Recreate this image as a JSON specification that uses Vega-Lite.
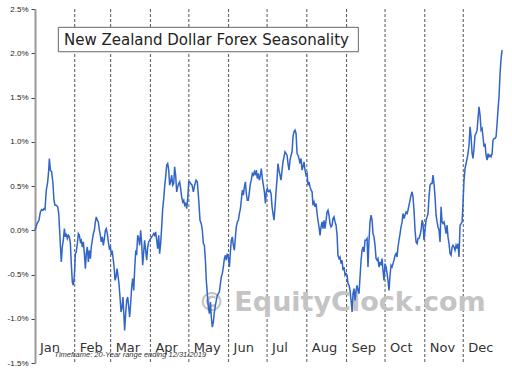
{
  "$schema": "https://vega.github.io/schema/vega-lite/v6.json",
  "width": 468,
  "height": 354,
  "autosize": {"type": "none"},
  "padding": {"left": 35, "top": 9, "right": 9, "bottom": 9},
  "background": "white",
  "config": {
    "view": {"stroke": null},
    "axisX": {"disable": true},
    "axisY": {
      "values": [-1.5, -1, -0.5, 0, 0.5, 1, 1.5, 2, 2.5],
      "labelExpr": "replace(format(datum.value, '.1f'), '\u2212', '-') + '%'",
      "labelFont": "Liberation Sans",
      "labelFontSize": 8,
      "labelColor": "#222",
      "labelPadding": 3,
      "domainColor": "#999",
      "domainWidth": 2,
      "tickColor": "#444",
      "tickSize": 4,
      "title": null,
      "gridColor": {"condition": {"test": "datum.value === 0", "value": "#000"}, "value": "#aaa"},
      "gridWidth": {"condition": {"test": "datum.value === 0", "value": 1.5}, "value": 1},
      "gridOpacity": {"condition": {"test": "datum.value <= -1.5 || datum.value >= 2.5", "value": 0}, "value": 1}
    }
  },
  "datasets": {
    "months": [
      {"month": "Jan", "start": 0}, {"month": "Feb", "start": 31}, {"month": "Mar", "start": 59},
      {"month": "Apr", "start": 90}, {"month": "May", "start": 120}, {"month": "Jun", "start": 151},
      {"month": "Jul", "start": 181}, {"month": "Aug", "start": 212}, {"month": "Sep", "start": 243},
      {"month": "Oct", "start": 273}, {"month": "Nov", "start": 304}, {"month": "Dec", "start": 334}
    ],
    "series": [
      {"d":0,"v":0},{"d":1.6,"v":0.075},{"d":3.1,"v":0.113},{"d":4.2,"v":0.207},{"d":5.2,"v":0.234},{"d":6.2,"v":0.226},{"d":7.0,"v":0.245},{"d":7.8,"v":0.234},{"d":8.8,"v":0.452},{"d":9.9,"v":0.547},{"d":10.7,"v":0.679},{"d":11.2,"v":0.811},{"d":12.0,"v":0.679},{"d":13.0,"v":0.66},{"d":14.0,"v":0.528},{"d":14.8,"v":0.339},{"d":15.6,"v":0.283},{"d":16.6,"v":0.283},{"d":17.7,"v":0.264},{"d":18.5,"v":0.189},{"d":19.2,"v":0},{"d":20.0,"v":-0.226},{"d":20.5,"v":-0.358},{"d":21.3,"v":-0.189},{"d":22.1,"v":-0.113},{"d":22.9,"v":0.019},{"d":23.7,"v":-0.075},{"d":24.4,"v":-0.038},{"d":25.2,"v":-0.094},{"d":26.0,"v":-0.057},{"d":26.8,"v":-0.075},{"d":27.6,"v":-0.151},{"d":28.3,"v":-0.377},{"d":29.1,"v":-0.585},{"d":29.9,"v":-0.622},{"d":30.7,"v":-0.509},{"d":31.5,"v":-0.264},{"d":32.2,"v":-0.245},{"d":33.0,"v":-0.151},{"d":33.8,"v":-0.038},{"d":34.6,"v":-0.057},{"d":35.4,"v":-0.132},{"d":36.1,"v":-0.113},{"d":36.9,"v":-0.189},{"d":37.7,"v":-0.132},{"d":38.5,"v":-0.264},{"d":39.3,"v":-0.434},{"d":40.0,"v":-0.264},{"d":40.8,"v":-0.189},{"d":41.6,"v":-0.358},{"d":42.4,"v":-0.226},{"d":43.2,"v":-0.321},{"d":43.9,"v":-0.189},{"d":44.7,"v":-0.113},{"d":45.5,"v":-0.038},{"d":46.3,"v":0},{"d":47.1,"v":0.094},{"d":47.8,"v":0.151},{"d":48.6,"v":0.113},{"d":49.4,"v":0.094},{"d":50.2,"v":0},{"d":51.0,"v":-0.057},{"d":51.7,"v":-0.132},{"d":52.5,"v":-0.075},{"d":53.3,"v":-0.17},{"d":54.1,"v":-0.094},{"d":54.9,"v":0},{"d":55.6,"v":0.019},{"d":56.4,"v":-0.038},{"d":57.2,"v":-0.132},{"d":58.0,"v":-0.207},{"d":58.8,"v":-0.189},{"d":59.5,"v":-0.264},{"d":60.3,"v":-0.245},{"d":61.1,"v":-0.339},{"d":61.9,"v":-0.452},
      {"d":62.4,"v":-0.566},{"d":63.2,"v":-0.528},{"d":64.0,"v":-0.434},{"d":64.7,"v":-0.509},{"d":65.5,"v":-0.603},{"d":66.3,"v":-0.754},{"d":67.1,"v":-0.924},{"d":67.9,"v":-0.867},{"d":68.6,"v":-0.754},{"d":69.4,"v":-0.98},{"d":69.9,"v":-1.131},{"d":70.7,"v":-0.943},{"d":71.5,"v":-0.792},{"d":72.3,"v":-0.754},{"d":73.1,"v":-0.867},{"d":73.8,"v":-0.98},{"d":74.6,"v":-0.83},{"d":75.4,"v":-0.641},{"d":76.2,"v":-0.547},{"d":77.0,"v":-0.679},{"d":77.7,"v":-0.452},{"d":78.5,"v":-0.245},{"d":79.3,"v":-0.264},{"d":80.1,"v":-0.057},{"d":80.9,"v":-0.094},{"d":81.6,"v":-0.17},{"d":82.4,"v":0},{"d":83.2,"v":-0.151},{"d":84.0,"v":-0.396},{"d":84.8,"v":-0.245},{"d":85.5,"v":-0.113},{"d":86.3,"v":-0.226},{"d":87.1,"v":-0.339},{"d":87.9,"v":-0.189},{"d":88.7,"v":-0.132},{"d":89.4,"v":-0.113},{"d":90.2,"v":-0.094},{"d":91.0,"v":-0.075},{"d":91.8,"v":-0.057},{"d":92.6,"v":-0.038},{"d":93.3,"v":-0.057},{"d":94.1,"v":-0.019},{"d":94.9,"v":-0.113},{"d":95.7,"v":-0.207},{"d":96.5,"v":-0.057},{"d":97.2,"v":-0.264},{"d":98.0,"v":-0.151},{"d":98.8,"v":0.038},{"d":99.6,"v":0.245},{"d":100.4,"v":0.358},{"d":101.1,"v":0.49},{"d":101.9,"v":0.603},{"d":102.7,"v":0.735},{"d":103.5,"v":0.754},{"d":104.3,"v":0.679},{"d":105.0,"v":0.509},{"d":105.8,"v":0.547},{"d":106.6,"v":0.622},{"d":107.4,"v":0.509},{"d":108.2,"v":0.528},{"d":108.9,"v":0.716},{"d":109.7,"v":0.622},{"d":110.5,"v":0.433},{"d":111.3,"v":0.49},{"d":112.1,"v":0.528},{"d":112.8,"v":0.547},{"d":113.6,"v":0.471},{"d":114.4,"v":0.377},{"d":115.2,"v":0.32},{"d":116.0,"v":0.339},{"d":116.7,"v":0.283},{"d":117.5,"v":0.302},{"d":118.3,"v":0.245},{"d":119.1,"v":0.358},{"d":119.9,"v":0.547},{"d":120.6,"v":0.547},{"d":121.4,"v":0.528},
      {"d":122.5,"v":0.509},{"d":123.5,"v":0.434},{"d":124.5,"v":0.509},{"d":125.6,"v":0.566},{"d":126.6,"v":0.547},{"d":127.7,"v":0.339},{"d":128.7,"v":0.113},{"d":129.7,"v":0.075},{"d":130.5,"v":0},{"d":131.3,"v":-0.151},{"d":132.1,"v":-0.17},{"d":132.9,"v":-0.339},{"d":133.6,"v":-0.566},{"d":134.4,"v":-0.716},{"d":135.2,"v":-0.867},{"d":136.0,"v":-0.943},{"d":136.8,"v":-0.811},{"d":137.5,"v":-0.98},{"d":138.3,"v":-1.094},{"d":139.1,"v":-1.037},{"d":139.9,"v":-0.924},{"d":140.7,"v":-0.848},{"d":141.4,"v":-0.792},{"d":142.2,"v":-0.735},{"d":143.0,"v":-0.716},{"d":143.8,"v":-0.697},{"d":144.6,"v":-0.603},{"d":145.3,"v":-0.528},{"d":146.1,"v":-0.49},{"d":146.9,"v":-0.415},{"d":147.7,"v":-0.32},{"d":148.5,"v":-0.283},{"d":149.2,"v":-0.339},{"d":150.0,"v":-0.264},{"d":150.8,"v":-0.302},{"d":151.6,"v":-0.415},{"d":152.4,"v":-0.245},{"d":153.1,"v":-0.113},{"d":153.9,"v":-0.075},{"d":154.7,"v":-0.17},{"d":155.5,"v":-0.226},{"d":156.3,"v":-0.075},{"d":157.0,"v":0.038},{"d":157.8,"v":0.094},{"d":158.6,"v":0.113},{"d":159.4,"v":0.189},{"d":160.2,"v":0.245},{"d":160.9,"v":0.339},{"d":161.7,"v":0.452},{"d":162.5,"v":0.396},{"d":163.3,"v":0.49},{"d":164.1,"v":0.547},{"d":164.8,"v":0.415},{"d":165.6,"v":0.339},{"d":166.4,"v":0.339},{"d":167.2,"v":0.434},{"d":168.0,"v":0.528},{"d":168.7,"v":0.566},{"d":169.5,"v":0.641},{"d":170.3,"v":0.622},{"d":171.1,"v":0.66},{"d":171.9,"v":0.622},{"d":172.6,"v":0.679},{"d":173.4,"v":0.585},{"d":174.2,"v":0.641},{"d":175.0,"v":0.566},{"d":175.8,"v":0.622},{"d":176.5,"v":0.698},{"d":177.3,"v":0.585},{"d":178.1,"v":0.509},{"d":178.9,"v":0.434},{"d":179.7,"v":0.302},{"d":180.4,"v":0.434},{"d":181.2,"v":0.471},{"d":182.0,"v":0.434},
      {"d":182.5,"v":0.434},{"d":183.3,"v":0.452},{"d":184.1,"v":0.415},{"d":184.9,"v":0.264},{"d":185.6,"v":0.189},{"d":186.4,"v":0.113},{"d":187.2,"v":0.264},{"d":188.0,"v":0.434},{"d":188.8,"v":0.585},{"d":189.5,"v":0.754},{"d":190.3,"v":0.679},{"d":191.1,"v":0.622},{"d":191.9,"v":0.566},{"d":192.7,"v":0.679},{"d":193.4,"v":0.773},{"d":194.2,"v":0.83},{"d":195.0,"v":0.886},{"d":195.8,"v":0.867},{"d":196.6,"v":0.848},{"d":197.3,"v":0.754},{"d":198.1,"v":0.679},{"d":198.9,"v":0.792},{"d":199.7,"v":0.848},{"d":200.5,"v":0.886},{"d":201.2,"v":1.056},{"d":202.0,"v":1.112},{"d":202.8,"v":1.131},{"d":203.6,"v":1.094},{"d":204.4,"v":0.867},{"d":205.1,"v":0.848},{"d":205.9,"v":0.811},{"d":206.7,"v":0.754},{"d":207.5,"v":0.811},{"d":208.3,"v":0.679},{"d":209.0,"v":0.716},{"d":209.8,"v":0.773},{"d":210.6,"v":0.679},{"d":211.4,"v":0.622},{"d":212.2,"v":0.641},{"d":212.9,"v":0.509},{"d":213.7,"v":0.547},{"d":214.5,"v":0.49},{"d":215.3,"v":0.452},{"d":216.1,"v":0.434},{"d":216.8,"v":0.283},{"d":217.6,"v":0.32},{"d":218.4,"v":0.264},{"d":219.2,"v":0.302},{"d":220.0,"v":0.189},{"d":220.7,"v":0.113},{"d":221.5,"v":0.038},{"d":222.3,"v":-0.057},{"d":223.1,"v":0.038},{"d":223.9,"v":0.094},{"d":224.6,"v":0.019},{"d":225.4,"v":0.113},{"d":226.2,"v":0.019},{"d":227.0,"v":0.113},{"d":227.8,"v":0.207},{"d":228.5,"v":0.226},{"d":229.3,"v":0.17},{"d":230.1,"v":0.075},{"d":230.9,"v":0.038},{"d":231.7,"v":0.057},{"d":232.4,"v":0.132},{"d":233.2,"v":0.151},{"d":234.0,"v":0.094},{"d":234.8,"v":0.057},{"d":235.6,"v":-0.057},{"d":236.3,"v":-0.283},{"d":237.1,"v":-0.32},{"d":237.9,"v":-0.302},{"d":238.7,"v":-0.377},{"d":239.5,"v":-0.339},{"d":240.2,"v":-0.452},{"d":241.0,"v":-0.415},{"d":241.8,"v":-0.509},{"d":242.6,"v":-0.49},
      {"d":243.4,"v":-0.509},{"d":244.1,"v":-0.603},{"d":244.9,"v":-0.622},{"d":245.7,"v":-0.679},{"d":246.5,"v":-0.792},{"d":247.3,"v":-0.924},{"d":248.0,"v":-0.716},{"d":248.8,"v":-0.66},{"d":249.6,"v":-0.792},{"d":250.4,"v":-0.679},{"d":251.2,"v":-0.622},{"d":251.9,"v":-0.679},{"d":252.7,"v":-0.716},{"d":253.5,"v":-0.528},{"d":254.3,"v":-0.339},{"d":255.1,"v":-0.226},{"d":255.8,"v":-0.189},{"d":256.6,"v":-0.245},{"d":257.4,"v":-0.113},{"d":258.2,"v":-0.113},{"d":259.0,"v":-0.094},{"d":259.7,"v":-0.415},{"d":260.5,"v":-0.113},{"d":261.3,"v":0.094},{"d":262.1,"v":0.17},{"d":262.9,"v":0.113},{"d":263.6,"v":-0.038},{"d":264.4,"v":-0.075},{"d":265.2,"v":-0.17},{"d":266.0,"v":-0.32},{"d":266.8,"v":-0.339},{"d":267.5,"v":-0.32},{"d":268.3,"v":-0.415},{"d":269.1,"v":-0.358},{"d":269.9,"v":-0.396},{"d":270.7,"v":-0.32},{"d":271.4,"v":-0.452},{"d":272.2,"v":-0.566},{"d":273.0,"v":-0.377},{"d":273.8,"v":-0.415},{"d":274.6,"v":-0.49},{"d":275.3,"v":-0.566},{"d":276.1,"v":-0.679},{"d":276.9,"v":-0.509},{"d":277.7,"v":-0.396},{"d":278.5,"v":-0.415},{"d":279.2,"v":-0.377},{"d":280.0,"v":-0.339},{"d":280.8,"v":-0.283},{"d":281.6,"v":-0.264},{"d":282.4,"v":-0.302},{"d":283.1,"v":-0.189},{"d":283.9,"v":-0.113},{"d":284.7,"v":-0.038},{"d":285.5,"v":0.038},{"d":286.3,"v":0.094},{"d":287.0,"v":0.189},{"d":287.8,"v":0.132},{"d":288.6,"v":0.17},{"d":289.4,"v":0.207},{"d":290.2,"v":0.189},{"d":290.9,"v":0.226},{"d":291.7,"v":0.283},{"d":292.5,"v":0.339},{"d":293.3,"v":0.396},{"d":294.1,"v":0.434},{"d":294.8,"v":0.377},{"d":295.6,"v":0.226},{"d":296.4,"v":0},{"d":297.2,"v":-0.132},{"d":298.0,"v":-0.151},{"d":298.7,"v":-0.094},{"d":299.5,"v":-0.094},{"d":300.3,"v":-0.057},{"d":301.1,"v":0},{"d":301.9,"v":0.113},{"d":302.6,"v":0.075},{"d":303.4,"v":-0.113},
      {"d":304.2,"v":0},{"d":305.0,"v":0.113},{"d":305.8,"v":0.151},{"d":306.5,"v":0.189},{"d":307.3,"v":0.377},{"d":308.1,"v":0.509},{"d":308.9,"v":0.528},{"d":309.7,"v":0.528},{"d":310.4,"v":0.622},{"d":311.2,"v":0.528},{"d":312.0,"v":0.377},{"d":312.8,"v":0.17},{"d":313.6,"v":0.094},{"d":314.3,"v":0.038},{"d":315.1,"v":0},{"d":315.9,"v":-0.132},{"d":316.7,"v":0.264},{"d":317.5,"v":0.094},{"d":318.2,"v":0.075},{"d":319.0,"v":0.094},{"d":319.8,"v":0.038},{"d":320.6,"v":-0.038},{"d":321.4,"v":0.057},{"d":322.1,"v":-0.075},{"d":322.9,"v":-0.151},{"d":323.7,"v":-0.264},{"d":324.5,"v":-0.283},{"d":325.3,"v":-0.189},{"d":326.0,"v":-0.17},{"d":326.8,"v":-0.189},{"d":327.6,"v":-0.226},{"d":328.4,"v":-0.17},{"d":329.2,"v":-0.207},{"d":329.9,"v":-0.151},{"d":330.7,"v":-0.302},{"d":331.5,"v":0.057},{"d":332.3,"v":0.075},{"d":333.1,"v":0.094},{"d":333.8,"v":0.302},{"d":334.6,"v":0.566},{"d":335.4,"v":0.698},{"d":336.2,"v":0.754},{"d":337.0,"v":0.811},{"d":337.7,"v":0.867},{"d":338.5,"v":0.962},{"d":339.3,"v":1.169},{"d":340.1,"v":1.056},{"d":340.9,"v":0.867},{"d":341.6,"v":0.811},{"d":342.4,"v":0.924},{"d":343.2,"v":1.075},{"d":344.0,"v":1.094},{"d":344.8,"v":1.131},{"d":345.5,"v":1.263},{"d":346.3,"v":1.395},{"d":347.1,"v":1.301},{"d":347.9,"v":1.131},{"d":348.7,"v":1.15},{"d":349.4,"v":1.056},{"d":350.2,"v":0.943},{"d":351.0,"v":0.98},{"d":351.8,"v":0.848},{"d":352.6,"v":0.792},{"d":353.3,"v":0.867},{"d":354.1,"v":0.83},{"d":354.9,"v":0.848},{"d":355.7,"v":0.83},{"d":356.5,"v":0.867},{"d":357.2,"v":1.018},{"d":358.0,"v":1.037},{"d":358.8,"v":1.037},{"d":359.6,"v":1.056},{"d":360.4,"v":1.207},{"d":361.1,"v":1.357},{"d":361.9,"v":1.508},{"d":362.7,"v":1.772},{"d":363.5,"v":1.942},{"d":364.3,"v":2.036}
    ]
  },
  "layer": [
    {
      "data": {"name": "months"},
      "transform": [{"filter": "datum.start > 0"}],
      "mark": {"type": "rule", "color": "#555", "strokeDash": [3, 2], "strokeWidth": 1},
      "encoding": {
        "x": {"field": "start", "type": "quantitative", "scale": {"domain": [0, 365], "nice": false, "zero": false}}
      }
    },
    {
      "data": {"values": [{}]},
      "mark": {"type": "text", "text": "© EquityClock.com", "align": "left", "baseline": "alphabetic", "font": "DejaVu Sans", "fontWeight": "bold", "fontSize": 27, "color": "#c4c4c4"},
      "encoding": {
        "x": {"datum": 127.1, "type": "quantitative"},
        "y": {"datum": -0.916, "type": "quantitative"}
      }
    },
    {
      "data": {"name": "series"},
      "mark": {"type": "line", "color": "#3165c8", "strokeWidth": 1.5},
      "encoding": {
        "x": {"field": "d", "type": "quantitative"},
        "y": {"field": "v", "type": "quantitative", "scale": {"domain": [-1.5, 2.5], "nice": false, "zero": false}, "axis": {"title": null}}
      }
    },
    {
      "data": {"name": "months"},
      "mark": {"type": "text", "align": "left", "baseline": "alphabetic", "dx": 5, "font": "DejaVu Sans", "fontSize": 13, "color": "#333"},
      "encoding": {
        "x": {"field": "start", "type": "quantitative"},
        "y": {"datum": -1.377, "type": "quantitative"},
        "text": {"field": "month"}
      }
    },
    {
      "data": {"values": [{}]},
      "mark": {"type": "text", "text": "Timeframe: 20-Year range ending 12/31/2019", "align": "left", "baseline": "alphabetic", "font": "Liberation Sans", "fontStyle": "italic", "fontSize": 7.5, "color": "#333"},
      "encoding": {
        "x": {"datum": 15.1, "type": "quantitative"},
        "y": {"datum": -1.437, "type": "quantitative"}
      }
    },
    {
      "data": {"values": [{}]},
      "mark": {"type": "rect", "fill": "white", "stroke": "#666", "strokeWidth": 1},
      "encoding": {
        "x": {"datum": 18.2, "type": "quantitative"},
        "x2": {"datum": 252.2},
        "y": {"datum": 2.293, "type": "quantitative"},
        "y2": {"datum": 2.017}
      }
    },
    {
      "data": {"values": [{}]},
      "mark": {"type": "text", "text": "New Zealand Dollar Forex Seasonality", "align": "left", "baseline": "alphabetic", "font": "DejaVu Sans", "fontSize": 15, "color": "#222"},
      "encoding": {
        "x": {"datum": 22.6, "type": "quantitative"},
        "y": {"datum": 2.093, "type": "quantitative"}
      }
    }
  ]
}
